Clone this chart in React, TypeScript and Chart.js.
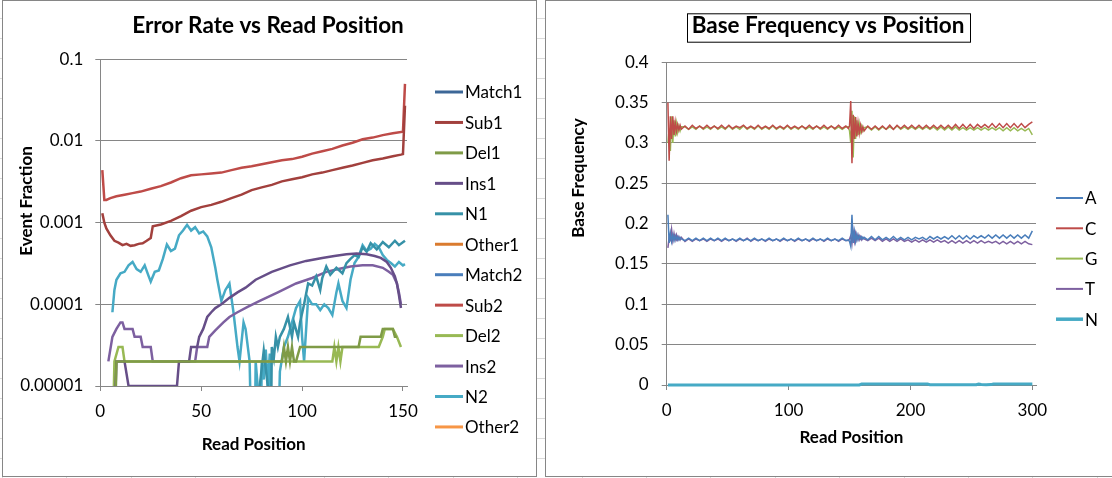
import React, { useEffect, useRef } from "react";
import { Chart, registerables, Plugin } from "chart.js";

Chart.register(...registerables);

// ---------- Error Rate vs Read Position ----------
const matchPos = [1, 50, 100, 150, 151];
const match1 = [0.9985, 0.998, 0.996, 0.993, 0.972];
const match2 = [0.995, 0.996, 0.993, 0.986, 0.95];

const sub1Pos = [
  1, 2, 3, 5, 7, 9, 11, 13, 15, 17,
  19, 21, 23, 25, 26, 30, 35, 40, 45, 50,
  55, 60, 65, 70, 75, 80, 85, 90, 95, 100,
  105, 110, 115, 120, 125, 130, 135, 140, 145, 149,
  150, 151,
];
const sub1 = [
  0.0013, 0.001, 0.00085, 0.0007, 0.0006, 0.00057, 0.00053, 0.00055, 0.00052, 0.00053,
  0.00055, 0.00056, 0.0006, 0.00065, 0.0009, 0.00095, 0.00105, 0.0012, 0.0014, 0.00155,
  0.00165, 0.0018, 0.002, 0.0022, 0.0025, 0.0027, 0.0029, 0.0032, 0.0034, 0.0036,
  0.0039, 0.0041, 0.0044, 0.0047, 0.005, 0.0054, 0.0058, 0.0061, 0.0065, 0.0068,
  0.0069, 0.027,
];

const sub2Pos = [
  1, 2, 3, 5, 8, 12, 16, 20, 25, 30,
  35, 40, 45, 50, 55, 60, 65, 70, 75, 80,
  85, 90, 95, 100, 105, 110, 115, 120, 125, 130,
  135, 140, 145, 150, 151,
];
const sub2 = [
  0.0044, 0.0019, 0.0019, 0.002, 0.0021, 0.0022, 0.0023, 0.0024, 0.0026, 0.0028,
  0.0031, 0.0035, 0.0038, 0.0039, 0.004, 0.0041, 0.0044, 0.0047, 0.0049, 0.0052,
  0.0055, 0.0058, 0.006, 0.0064, 0.007, 0.0075, 0.008, 0.0088, 0.0095, 0.0105,
  0.011, 0.0118, 0.0124, 0.013, 0.05,
];

const del1Pos = [1, 6, 8, 90, 91, 92, 93, 94, 95, 96, 97, 99, 128, 129, 139, 140, 145, 146, 147];
const del1 = [
  0, 0, 0.00002, 0.00002, 0.00003, 0.00002, 0.00003, 0.00002, 0.00003, 0.00002,
  0.00002, 0.00003, 0.00003, 0.00004, 0.00004, 0.00005, 0.00005, 0.00004, 0.00004,
];

const del2Pos = [1, 5, 7, 9, 11, 12, 115, 116, 117, 118, 119, 120, 138, 140, 141, 145, 147, 149];
const del2 = [
  0, 0, 0.00002, 0.00003, 0.00003, 0.00002, 0.00002, 0.00003, 0.00002, 0.00003,
  0.00002, 0.00003, 0.00003, 0.00004, 0.00005, 0.00005, 0.00004, 0.00003,
];

const ins1Pos = [
  1, 5, 8, 12, 14, 38, 39, 44, 45, 48,
  49, 51, 53, 55, 57, 60, 64, 68, 72, 77,
  85, 94, 102, 110, 116, 122, 127, 132, 136, 139,
  142, 144, 146, 147, 148, 149,
];
const ins1 = [
  0, 0, 0.00002, 0.00002, 0.00001, 0.00001, 0.00002, 0.00002, 0.00003, 0.00003,
  0.00004, 0.00005, 0.00007, 0.00008, 0.00009, 0.0001, 0.00012, 0.00014, 0.00016, 0.0002,
  0.00025, 0.0003, 0.00034, 0.00037, 0.00039, 0.00041, 0.00042, 0.00041, 0.00039, 0.00037,
  0.00033, 0.00028, 0.00022, 0.00018, 0.00013, 0.00009,
];

const ins2Pos = [
  4, 6, 8, 10, 11, 12, 16, 17, 20, 21,
  25, 26, 47, 48, 53, 54, 57, 61, 64, 68,
  73, 79, 88, 97, 105, 112, 118, 124, 130, 135,
  140, 143, 145, 147, 148, 149,
];
const ins2 = [
  0.00002, 0.00004, 0.00005, 0.00006, 0.00006, 0.00005, 0.00005, 0.00004, 0.00004, 0.00003,
  0.00003, 0.00002, 0.00002, 0.00003, 0.00003, 0.00004, 0.000048, 0.00006, 0.00007, 0.00008,
  0.000093, 0.00011, 0.00014, 0.00018, 0.00021, 0.00025, 0.00027, 0.00029, 0.0003, 0.0003,
  0.00028, 0.00025, 0.00023, 0.00018, 0.00014, 0.0001,
];

const n1Pos = [
  1, 78, 79, 81, 83, 84, 85, 86, 87, 88,
  89, 91, 93, 95, 96, 98, 99, 101, 103, 105,
  107, 109, 110, 112, 114, 117, 120, 122, 124, 126,
  128, 130, 132, 134, 137, 140, 143, 146, 148, 151,
];
const n1 = [
  0, 0, 0.00001, 0.000027, 0.00001, 0, 0.00003, 0.000022, 0.00004, 0.00003,
  0.00004, 0.00005, 0.00007, 0.00004, 0.00006, 0.00004, 0.00006, 0.0001, 0.00018, 0.00017,
  0.00022, 0.00015, 0.00021, 0.00029, 0.00023, 0.00028, 0.00024, 0.00032, 0.00036, 0.0004,
  0.00038, 0.0005, 0.00044, 0.00056, 0.00047, 0.00058, 0.0005, 0.0006, 0.00053, 0.0006,
];

const n2Pos = [
  6, 7, 8, 10, 12, 14, 16, 18, 20, 22,
  24, 25, 27, 29, 31, 33, 35, 37, 39, 41,
  43, 45, 47, 49, 51, 53, 55, 57, 58, 60,
  62, 64, 66, 68, 69, 71, 72, 74, 76, 77,
  78, 79, 80, 81, 82, 83, 84, 85, 87, 89,
  91, 93, 95, 97, 99, 100, 101, 103, 105, 107,
  109, 111, 113, 115, 117, 118, 120, 122, 124, 126,
  128, 130, 132, 134, 136, 138, 140, 142, 144, 146,
  148, 150, 151,
];
const n2 = [
  0.00008, 0.00015, 0.0002, 0.00024, 0.00025, 0.0003, 0.00033, 0.00027, 0.00025, 0.0003,
  0.00022, 0.00019, 0.00025, 0.00026, 0.00036, 0.00054, 0.00045, 0.00048, 0.0007, 0.0008,
  0.00094, 0.0008, 0.00088, 0.00074, 0.00078, 0.00068, 0.0005, 0.00028, 0.0002, 0.00011,
  0.00015, 0.00018, 0.00008, 0.00003, 0.00002, 0.00006, 0.00005, 0.00002, 0, 0.00002,
  0.00001, 0, 0.00002, 0.000012, 0.000028, 0.00001, 0.000025, 0, 0, 0.000015,
  0.00003, 0.00004, 0.00006, 0.00009, 0.00011, 0.00004, 0.00002, 0.00012, 0.0001, 0.0001,
  0.000085, 0.0001, 0.00009, 0.000074, 0.00014, 0.00018, 0.00011, 0.00009, 0.0002, 0.00032,
  0.00038, 0.00053, 0.00045, 0.00048, 0.00055, 0.0005, 0.0004, 0.00035, 0.00032, 0.00029,
  0.00033, 0.0003, 0.00031,
];

const otherPos = [1, 151];
const other1 = [0, 0];
const other2 = [0, 0];

const errXTicks = [0, 50, 100, 150];
const errYTicks = [0.00001, 0.0001, 0.001, 0.01, 0.1];
const errYLabels = ["0.00001", "0.0001", "0.001", "0.01", "0.1"];

// ---------- Base Frequency vs Position ----------
const basePos = [
  1, 2, 3, 4, 5, 6, 7, 8, 9, 10,
  11, 12,
  15, 18, 21, 24, 27, 30, 33, 36, 39, 42,
  45, 48, 51, 54, 57, 60, 63, 66, 69, 72,
  75, 78, 81, 84, 87, 90, 93, 96, 99, 102,
  105, 108, 111, 114, 117, 120, 123, 126, 129, 132,
  135, 138, 141, 144, 147,
  149, 150, 151, 152, 153, 154, 155, 156, 157, 158,
  159, 160, 161, 162,
  165, 168, 171, 174, 177, 180, 183, 186, 189, 192,
  195, 198, 201, 204, 207, 210, 213, 216, 219, 222,
  225, 228, 231, 234, 237, 240, 243, 246, 249, 252,
  255, 258, 261, 264, 267, 270, 273, 276, 279, 282,
  285, 288, 291, 294, 297, 300,
];
const freqA = [
  0.211, 0.176, 0.188, 0.178, 0.186, 0.179, 0.185, 0.18, 0.184, 0.18,
  0.183, 0.181,
  0.179, 0.182, 0.179, 0.182, 0.179, 0.182, 0.179, 0.182, 0.179, 0.182,
  0.179, 0.182, 0.179, 0.181, 0.179, 0.182, 0.179, 0.181, 0.179, 0.182,
  0.179, 0.181, 0.179, 0.182, 0.179, 0.181, 0.179, 0.182, 0.179, 0.181,
  0.179, 0.182, 0.179, 0.181, 0.179, 0.182, 0.179, 0.181, 0.179, 0.182,
  0.179, 0.181, 0.179, 0.182, 0.179,
  0.18, 0.178, 0.172, 0.211, 0.176, 0.19, 0.178, 0.187, 0.18, 0.185,
  0.181, 0.184, 0.181, 0.183,
  0.18, 0.184, 0.18, 0.184, 0.18, 0.183, 0.18, 0.184, 0.18, 0.183,
  0.18, 0.183, 0.18, 0.183, 0.181, 0.183, 0.18, 0.184, 0.181, 0.184,
  0.181, 0.184, 0.181, 0.185, 0.181, 0.185, 0.181, 0.185, 0.181, 0.185,
  0.182, 0.185, 0.182, 0.186, 0.182, 0.186, 0.182, 0.186, 0.182, 0.186,
  0.182, 0.186, 0.182, 0.186, 0.182, 0.191,
];
const freqC = [
  0.35, 0.278, 0.333, 0.305, 0.333, 0.31, 0.326, 0.314, 0.323, 0.316,
  0.322, 0.317,
  0.321, 0.317, 0.322, 0.318, 0.321, 0.318, 0.322, 0.318, 0.321, 0.318,
  0.322, 0.318, 0.322, 0.318, 0.321, 0.319, 0.322, 0.318, 0.321, 0.318,
  0.322, 0.318, 0.321, 0.318, 0.322, 0.318, 0.321, 0.318, 0.322, 0.318,
  0.321, 0.318, 0.321, 0.318, 0.322, 0.318, 0.321, 0.318, 0.322, 0.318,
  0.321, 0.318, 0.322, 0.318, 0.321,
  0.318, 0.321, 0.352, 0.275, 0.335, 0.305, 0.332, 0.308, 0.325, 0.312,
  0.322, 0.314, 0.32, 0.315,
  0.321, 0.317, 0.321, 0.317, 0.321, 0.317, 0.322, 0.317, 0.322, 0.318,
  0.322, 0.318, 0.322, 0.318, 0.322, 0.318, 0.322, 0.318, 0.322, 0.318,
  0.322, 0.318, 0.322, 0.318, 0.323, 0.318, 0.323, 0.318, 0.323, 0.318,
  0.323, 0.319, 0.323, 0.319, 0.324, 0.319, 0.324, 0.319, 0.324, 0.319,
  0.324, 0.319, 0.324, 0.319, 0.323, 0.326,
];
const freqG = [
  0.3, 0.318, 0.29, 0.333, 0.3, 0.328, 0.308, 0.324, 0.313, 0.321,
  0.315, 0.32,
  0.32, 0.317, 0.32, 0.317, 0.321, 0.317, 0.32, 0.317, 0.321, 0.317,
  0.32, 0.317, 0.321, 0.317, 0.32, 0.317, 0.321, 0.317, 0.32, 0.317,
  0.321, 0.317, 0.32, 0.317, 0.321, 0.317, 0.32, 0.317, 0.321, 0.317,
  0.32, 0.317, 0.321, 0.317, 0.32, 0.317, 0.321, 0.317, 0.32, 0.317,
  0.321, 0.317, 0.32, 0.317, 0.32,
  0.32, 0.315, 0.3, 0.34, 0.282, 0.333, 0.305, 0.328, 0.31, 0.324,
  0.314, 0.321, 0.315, 0.319,
  0.32, 0.316, 0.32, 0.316, 0.32, 0.317, 0.32, 0.317, 0.321, 0.317,
  0.32, 0.317, 0.32, 0.317, 0.32, 0.317, 0.32, 0.317, 0.32, 0.316,
  0.32, 0.316, 0.32, 0.316, 0.32, 0.316, 0.319, 0.316, 0.319, 0.316,
  0.319, 0.316, 0.319, 0.316, 0.319, 0.316, 0.319, 0.315, 0.319, 0.315,
  0.319, 0.315, 0.318, 0.315, 0.318, 0.31,
];
const freqT = [
  0.17, 0.183, 0.18, 0.193, 0.179, 0.188, 0.18, 0.186, 0.18, 0.184,
  0.18, 0.183,
  0.178, 0.181, 0.178, 0.181, 0.179, 0.181, 0.178, 0.181, 0.179, 0.181,
  0.178, 0.181, 0.179, 0.181, 0.178, 0.181, 0.179, 0.182, 0.178, 0.181,
  0.179, 0.181, 0.178, 0.181, 0.179, 0.181, 0.178, 0.181, 0.179, 0.181,
  0.178, 0.181, 0.179, 0.181, 0.178, 0.181, 0.179, 0.181, 0.178, 0.181,
  0.179, 0.181, 0.178, 0.181, 0.179,
  0.179, 0.181, 0.185, 0.175, 0.19, 0.178, 0.188, 0.18, 0.186, 0.18,
  0.184, 0.18, 0.183, 0.181,
  0.179, 0.182, 0.179, 0.182, 0.178, 0.181, 0.178, 0.181, 0.178, 0.181,
  0.178, 0.18, 0.177, 0.18, 0.177, 0.18, 0.177, 0.18, 0.177, 0.18,
  0.177, 0.179, 0.176, 0.179, 0.176, 0.179, 0.176, 0.179, 0.176, 0.179,
  0.176, 0.179, 0.176, 0.178, 0.176, 0.178, 0.175, 0.178, 0.175, 0.178,
  0.175, 0.178, 0.175, 0.178, 0.175, 0.174,
];
const nPos = [1, 150, 158, 160, 214, 216, 218, 254, 256, 258, 262, 266, 268, 300];
const freqN = [0, 0, 0, 0.0012, 0.0012, 0.0004, 0.0003, 0.0003, 0.0012, 0.0006, 0.0004, 0.0005, 0.0012, 0.0012];

const baseXTicks = [0, 100, 200, 300];
const baseYTicks = [0, 0.05, 0.1, 0.15, 0.2, 0.25, 0.3, 0.35, 0.4];
const baseYLabels = ["0", "0.05", "0.1", "0.15", "0.2", "0.25", "0.3", "0.35", "0.4"];

// ---------- styling ----------
const FONT = "Lato, 'Noto Sans', sans-serif";
const GRID = "#868686";
const BELOW = 1e-7; // zero counts sit under the log axis and get clipped

const pts = (xs: number[], ys: number[], log: boolean) =>
  xs.map((x, i) => ({ x, y: log && ys[i] === 0 ? BELOW : ys[i] }));

const line = (label: string, xs: number[], ys: number[], color: string, width: number, log: boolean) => ({
  label,
  data: pts(xs, ys, log),
  borderColor: color,
  backgroundColor: color,
  borderWidth: width,
  pointRadius: 0,
  tension: 0,
  fill: false,
  ...(log ? {} : { clip: 4 }),
});

// titles, axis titles and legend drawn by hand so they land where Excel put them
const decoPlugin: Plugin = {
  id: "deco",
  afterDraw(chart, _args, o: any) {
    const ctx = chart.ctx;
    const area = chart.chartArea;
    ctx.save();
    ctx.fillStyle = "#000";
    ctx.textAlign = "center";
    ctx.textBaseline = "alphabetic";

    ctx.font = `bold ${o.titleSize}px ${FONT}`;
    ctx.fillText(o.title, o.titleX, o.titleBase);
    if (o.titleBox) {
      const w = ctx.measureText(o.title).width;
      ctx.strokeStyle = "#000";
      ctx.lineWidth = 1;
      ctx.strokeRect(Math.round(o.titleX - w / 2 - o.boxPadX) + 0.5, o.boxTop + 0.5, Math.round(w + 2 * o.boxPadX), o.boxH);
    }

    ctx.font = `bold ${o.axisSize}px ${FONT}`;
    ctx.fillText(o.xTitle, (area.left + area.right) / 2, o.xTitleBase);
    ctx.save();
    ctx.translate(o.yTitleX, o.yTitleY);
    ctx.rotate(-Math.PI / 2);
    ctx.fillText(o.yTitle, 0, 0);
    ctx.restore();

    ctx.font = `${o.legendSize}px ${FONT}`;
    ctx.textAlign = "left";
    ctx.textBaseline = "middle";
    chart.data.datasets.forEach((ds: any, i) => {
      const y = o.legendTop + i * o.legendStep;
      ctx.strokeStyle = ds.borderColor;
      ctx.lineWidth = ds.borderWidth + 0.5;
      ctx.beginPath();
      ctx.moveTo(o.legendX, y);
      ctx.lineTo(o.legendX + o.legendW, y);
      ctx.stroke();
      ctx.fillText(ds.label, o.legendX + o.legendW + 2, y + 1);
    });
    ctx.restore();
  },
};

const tickFont = { family: FONT, size: 17 };

const ErrorChart = () => {
  const ref = useRef<HTMLCanvasElement>(null);
  useEffect(() => {
    if (!ref.current) return;
    const w = 2.5;
    const chart = new Chart(ref.current, {
      type: "line",
      data: {
        datasets: [
          line("Match1", matchPos, match1, "#3C6797", w, true),
          line("Sub1", sub1Pos, sub1, "#A2403D", w, true),
          line("Del1", del1Pos, del1, "#7F9B47", w, true),
          line("Ins1", ins1Pos, ins1, "#664E88", w, true),
          line("N1", n1Pos, n1, "#3691A7", w, true),
          line("Other1", otherPos, other1, "#DA7B2F", w, true),
          line("Match2", matchPos, match2, "#4A7EBB", w, true),
          line("Sub2", sub2Pos, sub2, "#BE4B48", w, true),
          line("Del2", del2Pos, del2, "#98B954", w, true),
          line("Ins2", ins2Pos, ins2, "#7D60A0", w, true),
          line("N2", n2Pos, n2, "#46AAC5", w, true),
          line("Other2", otherPos, other2, "#F79646", w, true),
        ] as any,
      },
      options: {
        animation: false,
        responsive: true,
        maintainAspectRatio: false,
        layout: { padding: { top: 58.3, left: 0, right: 129, bottom: 0 } },
        plugins: {
          legend: { display: false },
          tooltip: { enabled: false },
          deco: {
            title: "Error Rate vs Read Position", titleSize: 22.5, titleX: 265, titleBase: 31.8, titleBox: false,
            axisSize: 17, xTitle: "Read Position", xTitleBase: 449,
            yTitle: "Event Fraction", yTitleX: 28.7, yTitleY: 200,
            legendSize: 17, legendX: 432, legendW: 28, legendTop: 91, legendStep: 30.45,
          },
        } as any,
        scales: {
          x: {
            type: "linear",
            min: 0,
            max: 152,
            afterFit: (s: any) => { s.height = 90; },
            afterBuildTicks: (s: any) => { s.ticks = errXTicks.map((v) => ({ value: v })); },
            grid: { drawOnChartArea: false, tickLength: 5, color: GRID },
            border: { color: GRID },
            ticks: { padding: 10, color: "#000", font: tickFont, maxRotation: 0, autoSkip: false },
          },
          y: {
            type: "logarithmic",
            min: 0.00001,
            max: 0.1,
            afterFit: (s: any) => { s.width = 97.3; },
            afterBuildTicks: (s: any) => { s.ticks = errYTicks.map((v) => ({ value: v })); },
            grid: { tickLength: 5, color: GRID },
            border: { color: GRID },
            ticks: { padding: 12, color: "#000", font: tickFont, callback: (_v: any, i: number) => errYLabels[i] },
          },
        },
      },
      plugins: [decoPlugin],
    });
    return () => chart.destroy();
  }, []);
  return <canvas ref={ref} />;
};

const BaseChart = () => {
  const ref = useRef<HTMLCanvasElement>(null);
  useEffect(() => {
    if (!ref.current) return;
    const w = 1.5;
    const chart = new Chart(ref.current, {
      type: "line",
      data: {
        datasets: [
          line("A", basePos, freqA, "#4A7EBB", w, false),
          line("C", basePos, freqC, "#BE4B48", w, false),
          line("G", basePos, freqG, "#98B954", w, false),
          line("T", basePos, freqT, "#7D60A0", w, false),
          line("N", nPos, freqN, "#46AAC5", 3, false),
        ] as any,
      },
      options: {
        animation: false,
        responsive: true,
        maintainAspectRatio: false,
        layout: { padding: { top: 61.3, left: 0, right: 110, bottom: 0 } },
        plugins: {
          legend: { display: false },
          tooltip: { enabled: false },
          deco: {
            title: "Base Frequency vs Position", titleSize: 22.5, titleX: 282, titleBase: 31.8, titleBox: true,
            boxPadX: 5, boxTop: 12.3, boxH: 28.4,
            axisSize: 17, xTitle: "Read Position", xTitleBase: 441.7,
            yTitle: "Base Frequency", yTitleX: 38, yTitleY: 177,
            legendSize: 17, legendX: 510, legendW: 27, legendTop: 197, legendStep: 30.3,
          },
        } as any,
        scales: {
          x: {
            type: "linear",
            min: 0,
            max: 303,
            afterFit: (s: any) => { s.height = 91; },
            afterBuildTicks: (s: any) => { s.ticks = baseXTicks.map((v) => ({ value: v })); },
            grid: { drawOnChartArea: false, tickLength: 5, color: GRID },
            border: { color: GRID },
            ticks: { padding: 10, color: "#000", font: tickFont, maxRotation: 0, autoSkip: false },
          },
          y: {
            type: "linear",
            min: 0,
            max: 0.4,
            afterFit: (s: any) => { s.width = 120.7; },
            afterBuildTicks: (s: any) => { s.ticks = baseYTicks.map((v) => ({ value: v })); },
            grid: { tickLength: 5, color: GRID },
            border: { color: GRID },
            ticks: { padding: 13, color: "#000", font: tickFont, callback: (_v: any, i: number) => baseYLabels[i] },
          },
        },
      },
      plugins: [decoPlugin],
    });
    return () => chart.destroy();
  }, []);
  return <canvas ref={ref} />;
};

const boxStyle: React.CSSProperties = {
  position: "absolute",
  top: 0,
  border: "1px solid #868686",
  background: "#fff",
  height: 475,
};

export default function App() {
  return (
    <div
      style={{
        position: "fixed",
        left: 0,
        top: 0,
        width: 1112,
        height: 478,
        overflow: "hidden",
        backgroundColor: "#fff",
        backgroundImage:
          "repeating-linear-gradient(to bottom, transparent 0px, transparent 18px, #dadada 18px, #dadada 19px, transparent 19px, transparent 20px)," +
          "repeating-linear-gradient(to right, transparent 0px, transparent 1.9px, #dadada 1.9px, #dadada 2.9px, transparent 2.9px, transparent 64.4px)",
      }}
    >
      <div style={{ ...boxStyle, left: 2, width: 533 }}>
        <div style={{ position: "relative", width: 533, height: 475 }}>
          <ErrorChart />
        </div>
      </div>
      <div style={{ ...boxStyle, left: 545, width: 600 }}>
        <div style={{ position: "relative", width: 600, height: 475 }}>
          <BaseChart />
        </div>
      </div>
    </div>
  );
}
